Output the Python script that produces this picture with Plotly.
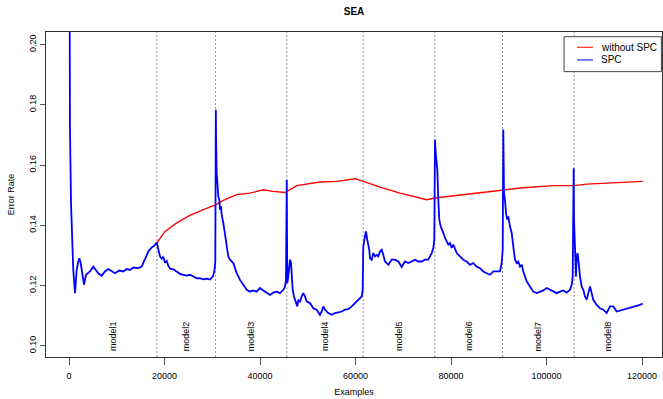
import plotly.graph_objects as go

# ---------------- data ----------------
boundaries = [18400, 30700, 45600, 61600, 76600, 90800, 105800]
x_end = 120000
model_labels = ["model1", "model2", "model3", "model4", "model5", "model6", "model7", "model8"]

x_ticks = [0, 20000, 40000, 60000, 80000, 100000, 120000]
y_ticks = [0.10, 0.12, 0.14, 0.16, 0.18, 0.20]

# without SPC (red)
red_x = [18366, 20104, 22555, 25340, 28125, 30722, 32313, 35120, 37905, 40691,
         42785, 45235, 47685, 49779, 52564, 56062, 59894, 61632, 65130, 69318,
         72103, 74910, 76649, 80481, 83978, 90826, 94449, 101422, 105757, 108417,
         115391, 120145]
red_y = [0.1341, 0.1380, 0.1408, 0.1433, 0.1452, 0.1468, 0.1483, 0.1502, 0.1507, 0.1518,
         0.1513, 0.1509, 0.1532, 0.1538, 0.1544, 0.1546, 0.1555, 0.1546, 0.1527, 0.1507,
         0.1496, 0.1485, 0.1491, 0.1498, 0.1505, 0.1518, 0.1524, 0.1532, 0.1532, 0.1537,
         0.1543, 0.1546]

# SPC (blue)
blue_x = [0, 100, 200, 419, 691, 900, 1256, 1612, 1947, 2157, 2450, 2869, 3141, 3560,
          4042, 4398, 5089, 5654, 6136, 6848, 7539, 8230, 8942, 9633, 10534, 11372,
          12083, 12774, 13465, 14513, 15225, 15916, 16607, 17319, 17863, 18366,
          18701, 19057, 19413, 19748, 20104, 20460, 20795, 21151, 21843, 22555, 23246,
          23937, 24649, 25340, 26031, 26743, 27434, 28125, 28837, 29528, 30156, 30470,
          30638, 30750,
          30785, 30931, 31057, 31267, 31476, 31622, 31832, 31978, 32313, 32670, 32879,
          33151, 33361, 33717, 34073, 34408, 34764, 35120, 35811, 36502, 37214, 37905,
          38596, 39308, 39999, 40691, 41403, 42093, 42785, 43497, 44188, 44879, 45235,
          45445, 45600,
          45654, 45717, 45926, 46282, 46492, 46638, 46848, 47120, 47476, 47811, 48021,
          48376, 48733, 49068, 49423, 49779, 50470, 51162, 51874, 52564, 52921, 53256,
          53612, 54303, 55015, 55706, 56397, 57109, 57800, 58491, 59203, 59894, 60585,
          61297, 61506, 61632, 61988, 62197, 62470, 62888,
          63035, 63391, 63726, 64082, 64438, 64773, 65130, 65486, 65821, 66177, 66533,
          66868, 67580, 68271, 68962, 69674, 70365, 71056, 71768, 72459, 73150, 73862,
          74554, 75245, 75957, 76292, 76502, 76649,
          76753, 76858, 77004, 77130, 77340, 77549, 77842, 78052, 78387, 78743, 79099,
          79434, 79790, 80146, 80481, 80837, 81193, 81884, 82575, 83287, 83978, 84669,
          85381, 86073, 86764, 87476, 88167, 88858, 89570, 90260, 90617, 90826, 90952,
          91035, 91098, 91307, 91517, 91789, 91999, 92355, 92711, 93046, 93402, 93758,
          94093, 94449, 94805, 95140, 95496, 95852, 96543, 97234, 97946, 98637, 99328,
          100040, 100731, 101422, 102134, 102825, 103516, 104228, 104919, 105275, 105485,
          105694,
          105757, 105967, 106176, 106323, 106532, 106742, 107014, 107370, 107705, 108061,
          108417, 108752, 109108, 109464, 109799, 110511, 111202, 111894, 112606, 113297,
          113988, 114700, 115391, 116082, 116794, 117485, 118176, 118888, 119580, 120145]
blue_y = [0.30, 0.19, 0.173, 0.1475, 0.131, 0.125, 0.1175, 0.1252, 0.1280, 0.1291, 0.1275,
          0.1230, 0.1203, 0.1236, 0.1241, 0.1247, 0.1263, 0.1252, 0.1241, 0.1233, 0.1247,
          0.1255, 0.1247, 0.1241, 0.1250, 0.1247, 0.1255, 0.1252, 0.1260, 0.1258, 0.1263,
          0.1291, 0.1313, 0.1327, 0.1332, 0.1343,
          0.1319, 0.1297, 0.1289, 0.1296, 0.1276, 0.1282, 0.1266, 0.1256, 0.1254, 0.1247,
          0.1239, 0.1236, 0.1233, 0.1236, 0.1229, 0.1224, 0.1225, 0.1221, 0.1223, 0.1220,
          0.1231, 0.1252, 0.1279, 0.1784,
          0.1707, 0.1574, 0.1529, 0.1496, 0.1485, 0.1452, 0.1463, 0.1435, 0.1408, 0.1374,
          0.1352, 0.1330, 0.1297, 0.1286, 0.1280, 0.1275, 0.1258, 0.1241, 0.1219, 0.1203,
          0.1186, 0.1180, 0.1184, 0.1180, 0.1192, 0.1184, 0.1175, 0.1169, 0.1177, 0.1180,
          0.1175, 0.1186, 0.1197, 0.1219, 0.1551,
          0.1319, 0.1208, 0.1230, 0.1286, 0.1275, 0.1241, 0.1186, 0.1164, 0.1147, 0.1131,
          0.1153, 0.1147, 0.1164, 0.1175, 0.1164, 0.1147, 0.1142, 0.1125, 0.1120, 0.1103,
          0.1114, 0.1131, 0.1120, 0.1109, 0.1103, 0.1109, 0.1111, 0.1114, 0.1120, 0.1122,
          0.1131, 0.1142, 0.1153, 0.1164, 0.1186, 0.1330, 0.1363, 0.1380, 0.1352, 0.1319,
          0.1291, 0.1286, 0.1308, 0.1297, 0.1302, 0.1297, 0.1313, 0.1319, 0.1302, 0.1280,
          0.1275, 0.1269, 0.1286, 0.1286, 0.1280, 0.1262, 0.1280, 0.1275, 0.1280, 0.1286,
          0.1280, 0.1280, 0.1286, 0.1286, 0.1308, 0.1325, 0.1352, 0.1684,
          0.1651, 0.1629, 0.1607, 0.1585, 0.1485, 0.1419, 0.1396, 0.1385, 0.1375, 0.1358,
          0.1347, 0.1336, 0.1341, 0.1325, 0.1336, 0.1319, 0.1308, 0.1297, 0.1286, 0.1280,
          0.1269, 0.1275, 0.1263, 0.1258, 0.1247, 0.1241, 0.1236, 0.1247, 0.1247, 0.1247,
          0.1275, 0.1319, 0.1718,
          0.1585, 0.1507, 0.1485, 0.1440, 0.1419, 0.1430, 0.1396, 0.1375, 0.1330, 0.1286,
          0.1275, 0.1280, 0.1263, 0.1269, 0.1247, 0.1230, 0.1214, 0.1197, 0.1180, 0.1175,
          0.1180, 0.1184, 0.1192, 0.1186, 0.1180, 0.1175, 0.1180, 0.1184, 0.1177, 0.1186,
          0.1203, 0.1230, 0.1590,
          0.1419, 0.1330, 0.1230, 0.1297, 0.1308, 0.1275, 0.1230, 0.1197, 0.1186, 0.1164,
          0.1153, 0.1175, 0.1197, 0.1175, 0.1153, 0.1136, 0.1125, 0.1120, 0.1109, 0.1131,
          0.1131, 0.1114, 0.1117, 0.1120, 0.1122, 0.1125, 0.1129, 0.1131, 0.1136, 0.1140]

# ---------------- figure ----------------
FONT = "Liberation Sans, Arial, Helvetica, sans-serif"
fig = go.Figure()
fig.add_trace(go.Scatter(x=red_x, y=red_y, mode="lines", name="without SPC",
                         line=dict(color="#ff0000", width=1.4), showlegend=False))
fig.add_trace(go.Scatter(x=blue_x, y=blue_y, mode="lines", name="SPC",
                         line=dict(color="#0000ff", width=1.8), showlegend=False))

shapes = []
for b in boundaries:
    shapes.append(dict(type="line", xref="x", yref="paper", x0=b, x1=b, y0=0, y1=1,
                       line=dict(color="#909090", width=1, dash="2px,2px"), layer="below"))

# model labels between boundaries
edges = [0] + boundaries + [x_end]
annotations = []
for i, lab in enumerate(model_labels):
    mid = (edges[i] + edges[i + 1]) / 2
    annotations.append(dict(x=mid, y=0.012, xref="x", yref="paper", text=lab,
                            showarrow=False, textangle=-90, yanchor="bottom",
                            xanchor="center", font=dict(size=9, color="#000000", family=FONT)))

# legend (drawn R-style, top right)
shapes.append(dict(type="rect", xref="paper", yref="paper", x0=0.841, x1=0.999,
                   y0=0.878, y1=0.9855, line=dict(color="#444444", width=1),
                   fillcolor="white", layer="above"))
leg_items = [("without SPC", "#ff0000", 0.953), ("SPC", "#0000ff", 0.914)]
for name, col, yy in leg_items:
    shapes.append(dict(type="line", xref="paper", yref="paper", x0=0.862, x1=0.888,
                       y0=yy, y1=yy, line=dict(color=col, width=1), layer="above"))
    annotations.append(dict(x=0.897, y=yy, xref="paper", yref="paper", text=name,
                            showarrow=False, xanchor="left", yanchor="middle",
                            font=dict(size=10, color="#000000", family=FONT)))

fig.update_layout(
    width=663, height=399,
    margin=dict(l=46, r=1, t=32, b=42, autoexpand=False),
    paper_bgcolor="white", plot_bgcolor="white",
    font=dict(family=FONT, size=9, color="#000000"),
    title=dict(text="<b>SEA</b>", x=0.5, xref="paper", xanchor="center",
               y=1 - 11 / 399, yref="container", yanchor="middle",
               font=dict(size=10, family=FONT, color="#000000")),
    shapes=shapes, annotations=annotations, showlegend=False,
    xaxis=dict(range=[-4817, 124188], tickvals=x_ticks,
               ticktext=[str(v) for v in x_ticks],
               showgrid=False, zeroline=False, showline=True, mirror=True,
               linecolor="#333333", linewidth=1, ticks="outside", ticklen=7,
               tickcolor="#555555", tickfont=dict(size=9), ticklabelstandoff=3,
               title=dict(text="Examples", font=dict(size=9), standoff=8)),
    yaxis=dict(range=[0.0963, 0.2042], tickvals=y_ticks,
               ticktext=["%.2f" % v for v in y_ticks],
               showgrid=False, zeroline=False, showline=True, mirror=True,
               linecolor="#333333", linewidth=1, ticks="outside", ticklen=5,
               tickcolor="#555555", tickfont=dict(size=9), tickangle=-90,
               title=dict(text="Error Rate", font=dict(size=9), standoff=12)),
)

fig.write_html(
    "out.html",
    config={"displayModeBar": False},
    post_script="document.body.style.margin='0';document.body.style.padding='0';"
                "document.body.style.overflow='hidden';",
)
